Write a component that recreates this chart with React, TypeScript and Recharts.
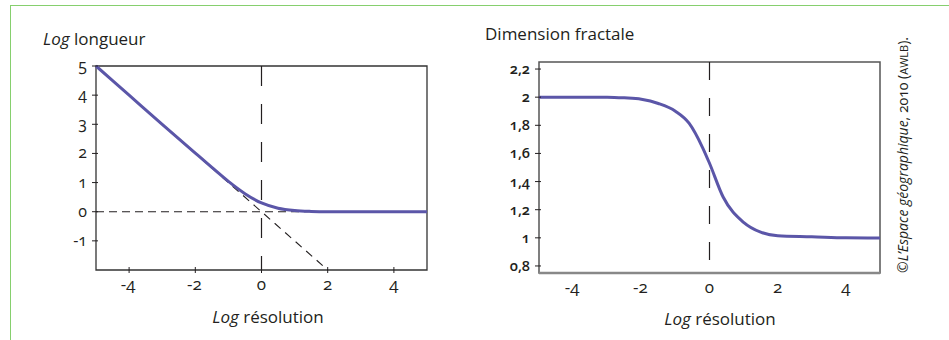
import { LineChart, Line, XAxis, YAxis, ReferenceLine, ReferenceArea } from 'recharts'

// Log longueur vs Log résolution
const lenX = [-5, -4, -3, -2, -1.5, -1, -0.5, 0, 0.5, 1, 1.5, 2, 3, 4, 5]
const lenY = [5, 4, 3, 2.01, 1.52, 1.04, 0.62, 0.3, 0.12, 0.04, 0.01, 0, 0, 0, 0]
const slopeX = [-5, 2]
const slopeY = [5, -2]

// Dimension fractale vs Log résolution
const dimX = [-5, -4, -3, -2.5, -2, -1.5, -1, -0.6, -0.2, 0, 0.4, 1, 1.5, 2, 3, 4, 5]
const dimY = [2, 2, 2, 1.995, 1.985, 1.955, 1.9, 1.815, 1.64, 1.53, 1.29, 1.11, 1.04, 1.015, 1.008, 1.0, 0.998]

const xTicks = [-4, -2, 0, 2, 4]
const lenTicks = [-1, 0, 1, 2, 3, 4, 5]
const dimTicks = [0.8, 1, 1.2, 1.4, 1.6, 1.8, 2, 2.2]

const lenData = lenX.map((x, i) => ({ x, y: lenY[i] }))
const dimData = dimX.map((x, i) => ({ x, y: dimY[i] }))
const slope = slopeX.map((x, i) => ({ x, y: slopeY[i] }))

const FONT = '"Open Sans", "Noto Sans", sans-serif'
const INK = '#231f20'
const PURPLE = '#5b56a8'
const OLD = { fontVariantNumeric: 'oldstyle-nums' } as const

const comma = (v: number) => String(v).replace('.', ',')

const yTick = (bold: boolean) => (props: any) => {
  const { x, y, payload } = props
  return (
    <g key={`y${payload.value}`}>
      <line x1={x - 4} x2={x + 2} y1={y} y2={y} stroke={INK} strokeWidth={1} />
      <text x={x - 9} y={y} dy={5} textAnchor="end" fontSize={bold ? 14.5 : 16} fontWeight={bold ? 600 : 400} fill={INK} fontFamily={FONT} style={OLD}>
        {comma(payload.value)}
      </text>
    </g>
  )
}

const xTick = (marks: boolean) => (props: any) => {
  const { x, y, payload } = props
  const v = payload.value
  return (
    <g key={`x${v}`}>
      {marks && <line x1={x} x2={x} y1={y - 3} y2={y + 3} stroke={INK} strokeWidth={1} />}
      <text x={x + (v < 0 ? -1 : 0)} y={y} dy={20} textAnchor="middle" fontSize={17} fill={INK} fontFamily={FONT} style={OLD}>
        {v}
      </text>
    </g>
  )
}

export default function App() {
  return (
    <div style={{ position: 'absolute', left: 0, top: 0, width: 949, height: 340, background: '#fff', fontFamily: FONT }}>
      <div style={{ position: 'absolute', left: 10, top: 5, width: 939, height: 335, borderTop: '1.5px solid #86cf6e', borderLeft: '1.5px solid #86cf6e' }} />

      <div style={{ position: 'absolute', left: 0, top: 0 }}>
        <LineChart width={450} height={340} data={lenData} margin={{ top: 66, left: 95, right: 23, bottom: 69 }}>
          <XAxis dataKey="x" type="number" domain={[-5, 5]} ticks={xTicks} height={1} tickSize={0} tickMargin={0} axisLine={false} tickLine={false} tick={xTick(true)} interval={0} />
          <YAxis type="number" domain={[-2, 5]} ticks={lenTicks} width={1} tickSize={0} tickMargin={0} axisLine={false} tickLine={false} tick={yTick(false)} interval={0} />
          <ReferenceArea x1={-5} x2={5} y1={-2} y2={5} fill="none" stroke="#333" strokeWidth={1.3} />
          <ReferenceLine x={0} stroke={INK} strokeWidth={1.2} strokeDasharray="20 18" strokeDashoffset={6} />
          <ReferenceLine y={0} stroke={INK} strokeWidth={1.1} strokeDasharray="8 5" />
          <ReferenceLine segment={slope} stroke={INK} strokeWidth={1.1} strokeDasharray="8 6" />
          <Line dataKey="y" type="monotone" stroke={PURPLE} strokeWidth={3} dot={false} isAnimationActive={false} />
        </LineChart>
      </div>

      <div style={{ position: 'absolute', left: 470, top: 0 }}>
        <LineChart width={479} height={340} data={dimData} margin={{ top: 62, left: 68, right: 69, bottom: 66 }}>
          <XAxis dataKey="x" type="number" domain={[-5, 5]} ticks={xTicks} height={1} tickSize={0} tickMargin={0} axisLine={false} tickLine={false} tick={xTick(false)} interval={0} />
          <YAxis type="number" domain={[0.75, 2.25]} ticks={dimTicks} width={1} tickSize={0} tickMargin={0} axisLine={false} tickLine={false} tick={yTick(true)} interval={0} />
          <ReferenceArea x1={-5} x2={5} y1={0.75} y2={2.25} fill="none" stroke="#555" strokeWidth={1.5} />
          <ReferenceLine y={0.75} stroke="#888" strokeWidth={2.5} />
          <ReferenceLine x={0} stroke={INK} strokeWidth={1.2} strokeDasharray="18 18" strokeDashoffset={23} />
          <Line dataKey="y" type="monotone" stroke={PURPLE} strokeWidth={3} dot={false} isAnimationActive={false} />
        </LineChart>
      </div>

      <svg width={949} height={340} style={{ position: 'absolute', left: 0, top: 0, pointerEvents: 'none' }} fontFamily={FONT} fill={INK}>
        <text x={43} y={45} fontSize={17}>
          <tspan fontStyle="italic">Log</tspan> longueur
        </text>
        <text x={268} y={323} fontSize={17} textAnchor="middle">
          <tspan fontStyle="italic">Log</tspan> résolution
        </text>
        <text x={485} y={40} fontSize={17}>Dimension fractale</text>
        <text x={720} y={325} fontSize={17} textAnchor="middle">
          <tspan fontStyle="italic">Log</tspan> résolution
        </text>
        <text transform="translate(908, 155) rotate(-90)" fontSize={14} textAnchor="middle" style={OLD}>
          ©<tspan fontStyle="italic">L’Espace géographique</tspan>, 2010 (<tspan fontSize={11}>AWLB</tspan>).
        </text>
      </svg>
    </div>
  )
}
